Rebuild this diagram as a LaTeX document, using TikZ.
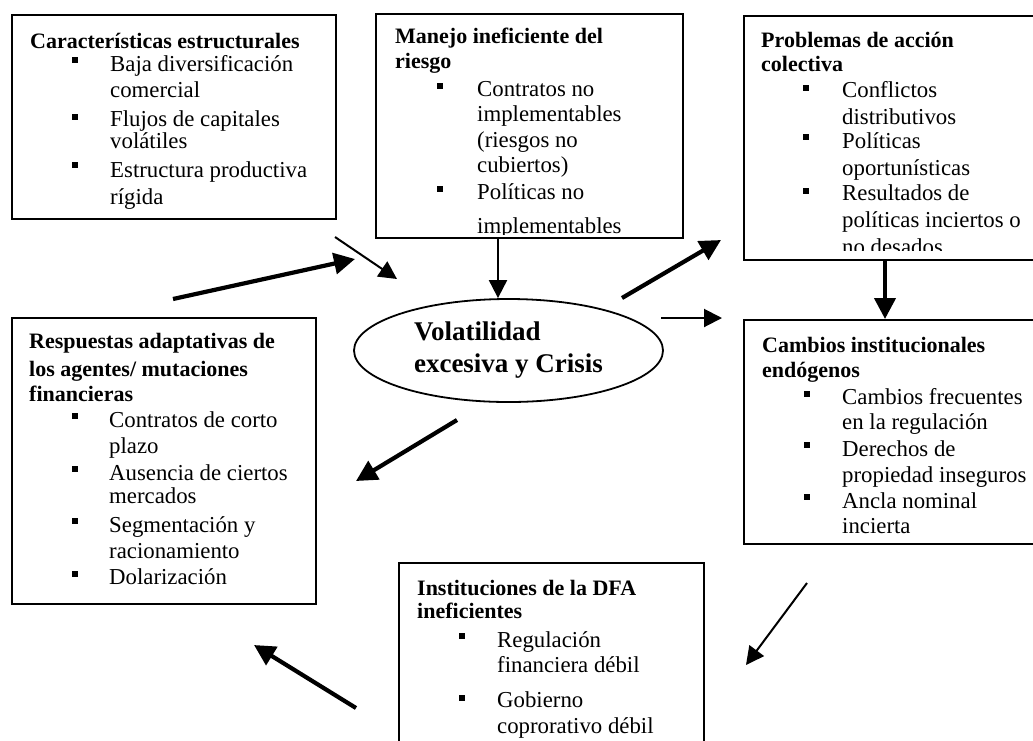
\documentclass[tikz,border=0pt]{standalone}
\usepackage{fontspec}
\setmainfont{Liberation Serif}
\usetikzlibrary{arrows.meta,shapes.geometric}
\tikzset{
  box/.style={draw, rectangle, line width=1.8pt, inner sep=0pt, anchor=north west},
  hd/.style={anchor=base west, inner sep=0pt, font=\fontsize{22}{26}\selectfont\bfseries},
  bd/.style={anchor=base west, inner sep=0pt, font=\fontsize{22.8}{26}\selectfont},
  bul/.style={fill, rectangle, minimum size=6pt, inner sep=0pt},
  thinarr/.style={line width=2pt, -{Triangle[length=18pt,width=18pt]}},
  thickarr/.style={line width=4.2pt, -{Triangle[length=21pt,width=21pt]}},
  oval/.style={draw, ellipse, line width=1.8pt, minimum width=309pt, minimum height=103pt,
    inner sep=0pt, align=left, font=\fontsize{27}{32}\selectfont\bfseries}
}
\begin{document}
\begin{tikzpicture}[x=1pt,y=-1pt]
\useasboundingbox (0,0) rectangle (1033,740);

% ---------- boxes ----------
\node[box, minimum width=324pt, minimum height=204pt] (car) at (11,14) {};
\node[box, minimum width=307pt, minimum height=224pt] (man) at (375,13) {};
\node[box, minimum width=300pt, minimum height=244pt] (pro) at (743,15) {};
\node[box, minimum width=304pt, minimum height=286pt] (res) at (11,317) {};
\node[box, minimum width=300pt, minimum height=224pt] (cam) at (743,319) {};
\node[box, minimum width=305pt, minimum height=200pt] (ins) at (398,562) {};

% ---------- central ellipse ----------
\node[oval] (vol) at (508.5,350.5) {Volatilidad\\excesiva y Crisis};

% ---------- box 1 ----------
\node[hd] (h1) at (30,48) {Características estructurales};
\foreach \ty/\tx [count=\i] in {71/Baja diversificación, 97/comercial, 126/Flujos de capitales,
    148/volátiles, 177/Estructura productiva, 204/rígida}
  \node[bd] (k1-\i) at (110,\ty) {\tx};
\foreach \ty [count=\i] in {60,117,165}
  \node[bul] (b1-\i) at (74.5,\ty) {};

% ---------- box 2 ----------
\begin{scope}
\clip (375,13) rectangle (682,234.5);
\node[hd] (h2a) at (395,43) {Manejo ineficiente del};
\node[hd] (h2b) at (395,68) {riesgo};
\foreach \ty/\tx [count=\i] in {96/Contratos no, 121/implementables, 147/(riesgos no,
    172/cubiertos), 199/Políticas no, 233/implementables}
  \node[bd] (k2-\i) at (477,\ty) {\tx};
\foreach \ty [count=\i] in {86,189}
  \node[bul] (b2-\i) at (440,\ty) {};
\end{scope}

% ---------- box 3 ----------
\begin{scope}
\clip (743,15) rectangle (1043,250);
\node[hd] (h3a) at (761,47) {Problemas de acción};
\node[hd] (h3b) at (761,71) {colectiva};
\foreach \ty/\tx [count=\i] in {97/Conflictos, 124/distributivos, 148/Políticas,
    175/oportunísticas, 200/Resultados de, 227/políticas inciertos o, 254/no desados}
  \node[bd] (k3-\i) at (842,\ty) {\tx};
\foreach \ty [count=\i] in {88,137,191}
  \node[bul] (b3-\i) at (806,\ty) {};
\end{scope}

% ---------- box 4 ----------
\node[hd] (h4a) at (29,348) {Respuestas adaptativas de};
\node[hd] (h4b) at (29,376) {los agentes/ mutaciones};
\node[hd] (h4c) at (29,401) {financieras};
\foreach \ty/\tx [count=\i] in {427/Contratos de corto, 453/plazo, 480/Ausencia de ciertos,
    503/mercados, 532/Segmentación y, 558/racionamiento, 584/Dolarización}
  \node[bd] (k4-\i) at (109,\ty) {\tx};
\foreach \ty [count=\i] in {416,469,521,574}
  \node[bul] (b4-\i) at (74.5,\ty) {};

% ---------- box 5 ----------
\node[hd] (h5a) at (762,352) {Cambios institucionales};
\node[hd] (h5b) at (762,377) {endógenos};
\foreach \ty/\tx [count=\i] in {404/Cambios frecuentes, 429/en la regulación, 456/Derechos de,
    482/propiedad inseguros, 508/Ancla nominal, 533/incierta}
  \node[bd] (k5-\i) at (842,\ty) {\tx};
\foreach \ty [count=\i] in {394,445,497}
  \node[bul] (b5-\i) at (806.5,\ty) {};

% ---------- box 6 ----------
\node[hd] (h6a) at (417,595) {Instituciones de la DFA};
\node[hd] (h6b) at (417,618) {ineficientes};
\foreach \ty/\tx [count=\i] in {647/Regulación, 672/financiera débil, 707/Gobierno,
    733/coprorativo débil}
  \node[bd] (k6-\i) at (497,\ty) {\tx};
\foreach \ty [count=\i] in {636,698}
  \node[bul] (b6-\i) at (462,\ty) {};

% ---------- connectors ----------
\coordinate (a1s) at (335,237);  \coordinate (a1e) at (397,279);
\coordinate (a2s) at (173,299);  \coordinate (a2e) at (355,259);
\coordinate (a3x) at (498,0);
\coordinate (a4s) at (622,298);  \coordinate (a4e) at (721,240);
\coordinate (a5s) at (661,318);  \coordinate (a5e) at (722,318);
\coordinate (a6x) at (885,0);
\coordinate (a7s) at (457,420);  \coordinate (a7e) at (356,481);
\coordinate (a8s) at (807,583);  \coordinate (a8e) at (746,665);
\coordinate (a9s) at (356,708);  \coordinate (a9e) at (254,645);

\draw[thinarr]  (a1s) -- (a1e);
\draw[thickarr] (a2s) -- (a2e);
\draw[thinarr]  (a3x |- man.south) -- (a3x |- vol.north);
\draw[thickarr] (a4s) -- (a4e);
\draw[thinarr]  (a5s) -- (a5e);
\draw[thickarr] (a6x |- pro.south) -- (a6x |- cam.north);
\draw[thickarr] (a7s) -- (a7e);
\draw[thinarr]  (a8s) -- (a8e);
\draw[thickarr] (a9s) -- (a9e);
\end{tikzpicture}
\end{document}
